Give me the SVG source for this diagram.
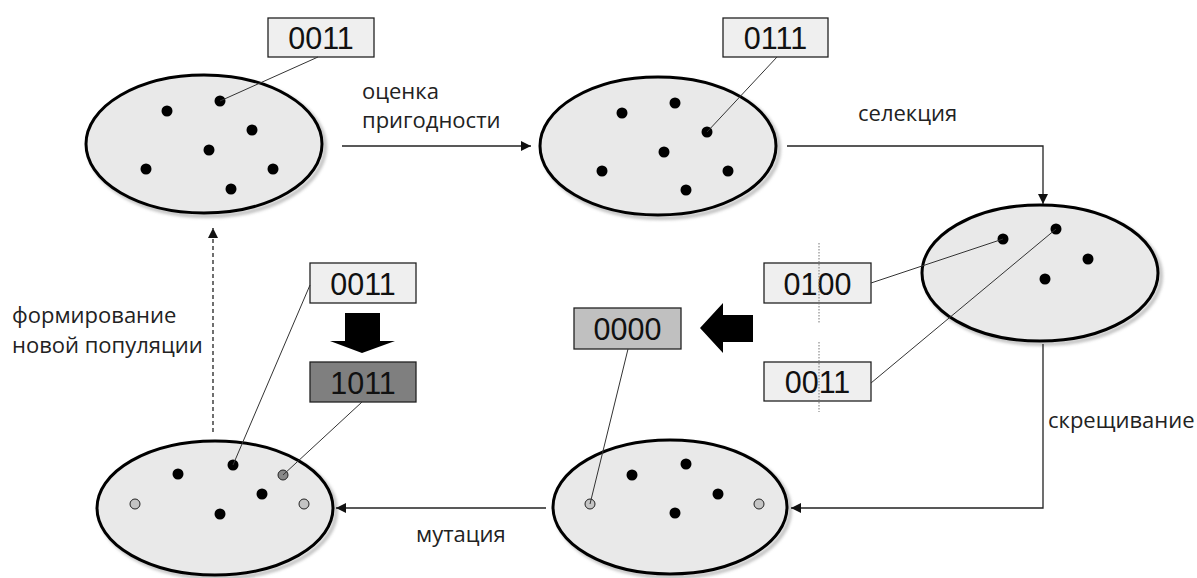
<svg xmlns="http://www.w3.org/2000/svg" width="1197" height="578" viewBox="0 0 1197 578">
<defs>
<style>
.pop{fill:#e9e9e9;stroke:#000;stroke-width:3}
.shadow{fill:none;stroke:#9a9a9a;stroke-width:4;opacity:0.6}
.dot{fill:#000}
.gdot{fill:#c4c4c4;stroke:#222;stroke-width:1}
.mdot{fill:#888;stroke:#222;stroke-width:1}
.box{fill:#efefef;stroke:#222;stroke-width:1.3}
.box0{fill:#c0c0c0;stroke:#222;stroke-width:1.3}
.box1{fill:#7f7f7f;stroke:#222;stroke-width:1.3}
.code{font-family:"Liberation Sans",Arial,sans-serif;font-size:30.5px;fill:#111;text-anchor:middle}
.lbl{font-family:"Open Sans","DejaVu Sans",sans-serif;font-size:22px;fill:#222}
.lead{stroke:#333;stroke-width:1;fill:none}
.conn{stroke:#222;stroke-width:1.3;fill:none}
.cut{stroke:#777;stroke-width:1;stroke-dasharray:1.5,1.5}
</style>
<marker id="ah" viewBox="0 0 10 10" refX="10" refY="5" markerWidth="11" markerHeight="10" markerUnits="userSpaceOnUse" orient="auto">
<path d="M0,0 L10,5 L0,10 Z" fill="#111"/>
</marker>
<filter id="blur" x="-10%" y="-10%" width="120%" height="120%"><feGaussianBlur stdDeviation="1.5"/></filter>
</defs>

<g id="label-fitness">
<text class="lbl" x="362" y="99">оценка</text>
<text class="lbl" x="362" y="128">пригодности</text>
</g>
<g id="label-selection"><text class="lbl" x="858" y="121">селекция</text></g>
<g id="label-crossover"><text class="lbl" x="1048" y="428">скрещивание</text></g>
<g id="label-mutation"><text class="lbl" x="416" y="542">мутация</text></g>
<g id="label-newpop">
<text class="lbl" x="12" y="323">формирование</text>
<text class="lbl" x="12" y="353">новой популяции</text>
</g>

<g id="pop1">
<ellipse class="shadow" cx="207" cy="147" rx="118" ry="69" filter="url(#blur)"/>
<ellipse class="pop" cx="204" cy="144" rx="118" ry="69"/>
<circle class="dot" cx="220" cy="101" r="5.5"/>
<circle class="dot" cx="167" cy="111" r="5.5"/>
<circle class="dot" cx="252" cy="130" r="5.5"/>
<circle class="dot" cx="209" cy="150" r="5.5"/>
<circle class="dot" cx="146" cy="169" r="5.5"/>
<circle class="dot" cx="273" cy="169" r="5.5"/>
<circle class="dot" cx="231" cy="189" r="5.5"/>
</g>
<g id="code-0011-top">
<rect class="box" x="268" y="18" width="106" height="39"/>
<text class="code" x="321" y="48.5">0011</text>
</g>

<g id="pop2">
<ellipse class="shadow" cx="661" cy="149" rx="118" ry="69" filter="url(#blur)"/>
<ellipse class="pop" cx="658" cy="146" rx="118" ry="69"/>
<circle class="dot" cx="622" cy="113" r="5.5"/>
<circle class="dot" cx="675" cy="103" r="5.5"/>
<circle class="dot" cx="707" cy="132" r="5.5"/>
<circle class="dot" cx="664" cy="152" r="5.5"/>
<circle class="dot" cx="602" cy="171" r="5.5"/>
<circle class="dot" cx="728" cy="171" r="5.5"/>
<circle class="dot" cx="686" cy="190" r="5.5"/>
</g>
<g id="code-0111">
<rect class="box" x="723" y="18" width="105" height="39"/>
<text class="code" x="775.5" y="48.5">0111</text>
</g>

<g id="pop3">
<ellipse class="shadow" cx="1043" cy="276" rx="118" ry="68" filter="url(#blur)"/>
<ellipse class="pop" cx="1040" cy="273" rx="118" ry="68"/>
<circle class="dot" cx="1003" cy="239" r="5.5"/>
<circle class="dot" cx="1056" cy="229" r="5.5"/>
<circle class="dot" cx="1088" cy="259" r="5.5"/>
<circle class="dot" cx="1045" cy="279" r="5.5"/>
</g>
<g id="code-0100">
<rect class="box" x="764" y="263" width="107" height="40"/>
<text class="code" x="817.5" y="294.5">0100</text>
</g>
<g id="code-0011-cross">
<rect class="box" x="764" y="362" width="107" height="39"/>
<text class="code" x="817.5" y="392.5">0011</text>
</g>
<g id="cut-lines">
<line class="cut" x1="819" y1="243" x2="819" y2="323"/>
<line class="cut" x1="819" y1="342" x2="819" y2="412"/>
</g>

<g id="big-arrow-left">
<path d="M700,328 L723,303 L723,315 L753,315 L753,342 L723,342 L723,353 Z" fill="#000"/>
</g>
<g id="code-0000">
<rect class="box0" x="574" y="308" width="107" height="41"/>
<text class="code" x="627.5" y="339.5">0000</text>
</g>

<g id="pop4">
<ellipse class="shadow" cx="673" cy="510" rx="117" ry="67" filter="url(#blur)"/>
<ellipse class="pop" cx="670" cy="507" rx="117" ry="67"/>
<circle class="gdot" cx="590" cy="504" r="5"/>
<circle class="dot" cx="632" cy="475" r="5.5"/>
<circle class="dot" cx="686" cy="464" r="5.5"/>
<circle class="dot" cx="718" cy="494" r="5.5"/>
<circle class="dot" cx="675" cy="513" r="5.5"/>
<circle class="gdot" cx="759" cy="504" r="5"/>
</g>

<g id="pop5">
<ellipse class="shadow" cx="218" cy="511" rx="118" ry="67" filter="url(#blur)"/>
<ellipse class="pop" cx="215" cy="508" rx="118" ry="67"/>
<circle class="dot" cx="233" cy="465" r="5.5"/>
<circle class="dot" cx="178" cy="474" r="5.5"/>
<circle class="dot" cx="262" cy="494" r="5.5"/>
<circle class="dot" cx="220" cy="514" r="5.5"/>
<circle class="mdot" cx="283" cy="475" r="5"/>
<circle class="gdot" cx="135" cy="504" r="5"/>
<circle class="gdot" cx="304" cy="504" r="5"/>
</g>
<g id="code-0011-mut">
<rect class="box" x="310" y="263" width="106" height="40"/>
<text class="code" x="363" y="294.5">0011</text>
</g>
<g id="big-arrow-down">
<path d="M345,313 L380,313 L380,341 L395,341 L362,353 L330,341 L345,341 Z" fill="#000"/>
</g>
<g id="code-1011">
<rect class="box1" x="310" y="362" width="106" height="40"/>
<text class="code" x="363" y="393.5">1011</text>
</g>

<g id="connectors">
<path class="conn" d="M342,146 H531" marker-end="url(#ah)"/>
<path class="conn" d="M787,146 H1043 V204" marker-end="url(#ah)"/>
<path class="conn" d="M1043,344 V508 H791" marker-end="url(#ah)"/>
<path class="conn" d="M546,508 H336" marker-end="url(#ah)"/>
<path class="conn" d="M213,432 V228" stroke-dasharray="4,3" marker-end="url(#ah)"/>
<path class="lead" d="M318,57 L220,101"/>
<path class="lead" d="M777,57 L707,132"/>
<path class="lead" d="M871,283 L1003,239"/>
<path class="lead" d="M871,383 L1056,229"/>
<path class="lead" d="M628,349 L590,504"/>
<path class="lead" d="M310,285 L233,465"/>
<path class="lead" d="M362,402 L283,475"/>
</g>
</svg>
